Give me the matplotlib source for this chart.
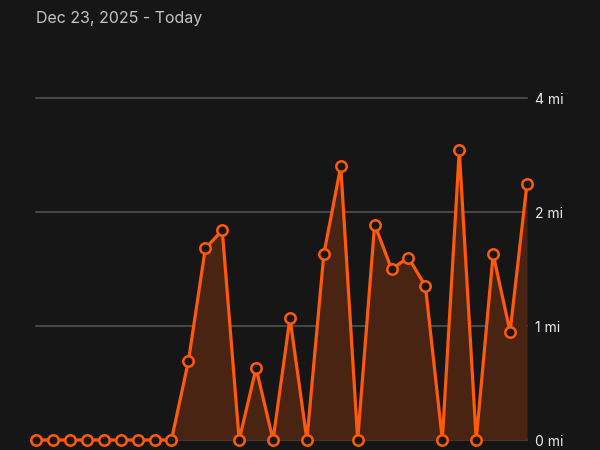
import numpy as np
import matplotlib
matplotlib.use("Agg")
import matplotlib.pyplot as plt

title = "Dec 23, 2025 - Today"
days = list(range(30))
miles = [0, 0, 0, 0, 0, 0, 0, 0, 0,
         0.69, 1.68, 1.84, 0, 0.63, 0, 1.07, 0, 1.63, 2.80, 0,
         1.89, 1.50, 1.60, 1.35, 0, 3.08, 0, 1.63, 0.95, 2.50]
tick_values = [0, 1, 2, 4]
tick_labels = ["0 mi", "1 mi", "2 mi", "4 mi"]

BG = "#161616"
ORANGE = "#ff5a0a"
FILL = "#4a2412"
GRID = "#505050"
TEXT = "#ececec"

plt.rcParams['font.family'] = ['Inter', 'DejaVu Sans']

def fwd(y):
    y = np.asarray(y, dtype=float)
    return np.where(y <= 2, y, 2 + (y - 2) / 2)

def inv(u):
    u = np.asarray(u, dtype=float)
    return np.where(u <= 2, u, 2 + (u - 2) * 2)

fig = plt.figure(figsize=(6, 4.5), dpi=100, facecolor=BG)
W, H = 600, 450
left, right, bottom, top = 36, 527, 440, 98
ax = fig.add_axes([left / W, 1 - bottom / H, (right - left) / W, (bottom - top) / H])
ax.set_facecolor(BG)
ax.set_yscale('function', functions=(fwd, inv))
ax.set_xlim(days[0], days[-1])
ax.set_ylim(0, 4)

for v in tick_values:
    ax.axhline(v, color=GRID, lw=1.2, zorder=1, clip_on=False)

ax.fill_between(days, miles, 0, color=FILL, lw=0, zorder=2)
ax.plot(days, miles, color=ORANGE, lw=2.3, zorder=3, clip_on=False,
        marker='o', markersize=7.5, markerfacecolor=BG,
        markeredgecolor=ORANGE, markeredgewidth=1.8)

for s in ax.spines.values():
    s.set_visible(False)
ax.set_xticks([])
ax.yaxis.tick_right()
ax.set_yticks(tick_values)
ax.set_yticklabels(tick_labels)
ax.tick_params(axis='y', length=0, pad=6, labelsize=10, labelcolor=TEXT)
ax.yaxis.set_minor_locator(matplotlib.ticker.NullLocator())

fig.text(36 / W, 1 - 18 / H, title, color="#c4c4c4", fontsize=11.5,
         ha='left', va='center')

fig.savefig("out.png", dpi=100, facecolor=BG)
